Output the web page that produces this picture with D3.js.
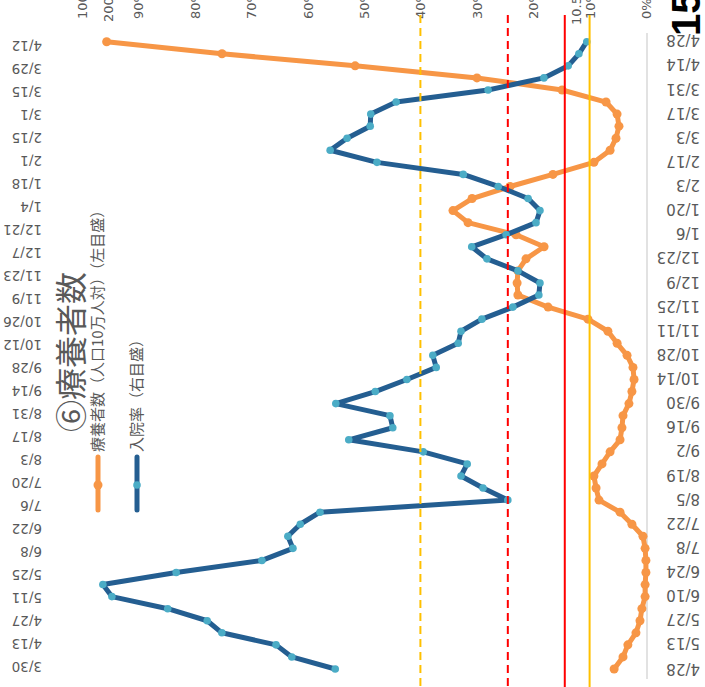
<!DOCTYPE html>
<html>
<head>
<meta charset="utf-8">
<script src="https://cdn.jsdelivr.net/npm/d3@7"></script>
<style>
  html, body { margin: 0; padding: 0; background: #fff; overflow: hidden; }
  svg { display: block; }
</style>
</head>
<body>
<svg id="chart" width="705" height="687"></svg>
<script>
// Weekly observation dates
const weeks = [
  "2020-04-28","2020-05-05","2020-05-12","2020-05-19","2020-05-26",
  "2020-06-02","2020-06-09","2020-06-16","2020-06-23","2020-06-30",
  "2020-07-07","2020-07-14","2020-07-21","2020-07-28",
  "2020-08-04","2020-08-11","2020-08-18","2020-08-25",
  "2020-09-01","2020-09-08","2020-09-15","2020-09-22","2020-09-29",
  "2020-10-06","2020-10-13","2020-10-20","2020-10-27",
  "2020-11-03","2020-11-10","2020-11-17","2020-11-24",
  "2020-12-01","2020-12-08","2020-12-15","2020-12-22","2020-12-29",
  "2021-01-05","2021-01-12","2021-01-19","2021-01-26",
  "2021-02-02","2021-02-09","2021-02-16","2021-02-23",
  "2021-03-02","2021-03-09","2021-03-16","2021-03-23","2021-03-30",
  "2021-04-06","2021-04-13","2021-04-20","2021-04-27"
];

// 療養者数（人口10万人対）
const patients = [
  12.2, 8.9, 7.1, 4.1, 2.6, 1.9, 0.7, 0.7, 0.4, 0.4,
  0.7, 1.5, 5.6, 10.0, 17.8, 18.9, 19.7, 16.7, 13.7, 10.0,
  9.3, 8.9, 6.7, 5.6, 4.8, 5.2, 7.4, 11.1, 14.5, 21.9,
  36.7, 47.9, 48.2, 47.9, 44.9, 38.2, 48.6, 66.4, 72.0, 64.9,
  50.8, 34.9, 19.7, 13.7, 11.5, 10.4, 11.1, 15.2, 31.5, 63.1,
  108.3, 157.7, 200.5
];

// 入院率（%）
const hospitalRate = [
  55.1, 62.8, 65.6, 75.2, 77.8, 84.8, 94.7, 96.3, 83.3, 68.1,
  62.6, 63.5, 61.3, 57.8, 24.5, 28.9, 32.8, 31.7, 39.5, 52.7,
  44.9, 45.4, 55.0, 48.0, 42.4, 37.2, 37.8, 33.3, 32.8, 29.1,
  23.6, 19.0, 18.8, 22.7, 28.2, 30.9, 24.8, 19.5, 18.8, 20.9,
  26.2, 32.4, 47.7, 56.0, 53.0, 48.9, 48.8, 44.3, 28.0, 18.1,
  13.8, 11.9, 10.5
];

// Axis ticks
const pctTicks = [0, 10, 20, 30, 40, 50, 60, 70, 80, 90, 100];
const patientTicks = [200];
const rightDateTicks = [
  "2020-04-28","2020-05-13","2020-05-27","2020-06-10","2020-06-24",
  "2020-07-08","2020-07-22","2020-08-05","2020-08-19","2020-09-02",
  "2020-09-16","2020-09-30","2020-10-14","2020-10-28","2020-11-11",
  "2020-11-25","2020-12-09","2020-12-23","2021-01-06","2021-01-20",
  "2021-02-03","2021-02-17","2021-03-03","2021-03-17","2021-03-31",
  "2021-04-14","2021-04-28"
];
const leftDateTicks = [
  "2020-03-30","2020-04-13","2020-04-27","2020-05-11","2020-05-25",
  "2020-06-08","2020-06-22","2020-07-06","2020-07-20","2020-08-03",
  "2020-08-17","2020-08-31","2020-09-14","2020-09-28","2020-10-12",
  "2020-10-26","2020-11-09","2020-11-23","2020-12-07","2020-12-21",
  "2021-01-04","2021-01-18","2021-02-01","2021-02-15","2021-03-01",
  "2021-03-15","2021-03-29","2021-04-12"
];

// Reference levels on the 入院率 scale
const thresholds = [40, 24.5, 14.4, 10];
const thresholdNote = "10.5";
const stageNumber = "15";

const title = "⑥療養者数";
const seriesNames = ["療養者数（人口10万人対）（左目盛）", "入院率（右目盛）"];

// ---------------------------------------------------------------
const svg = d3.select("#chart");
const parse = d3.utcParse("%Y-%m-%d");
const fmt = d3.utcFormat("%-m/%-d");
const dates = weeks.map(parse);

const grey = "#595959";
const orange = "#F79646";
const blue = "#245E91";
const blueMarker = "#4BACC6";
const numFont = "'DejaVu Sans', sans-serif";
const jpFont = "'Noto Sans CJK JP', sans-serif";

// value scales run horizontally, time runs upward
const xRate = d3.scaleLinear().domain([0, 100]).range([646, 82]);
const xPat = d3.scaleLinear().domain([0, 200]).range([647, 108]);
const yTime = d3.scaleUtc().domain([parse("2020-04-28"), parse("2021-04-28")]).range([669, 40]);
const yTime2 = d3.scaleUtc().domain([parse("2020-03-30"), parse("2021-04-12")]).range([666, 45]);

// category axis line
svg.append("line")
  .attr("x1", xRate(0) + 1).attr("x2", xRate(0) + 1)
  .attr("y1", 33).attr("y2", 679)
  .attr("stroke", "#D9D9D9").attr("stroke-width", 1.5);

// percentage axis (top)
const topAxis = svg.append("g")
  .call(d3.axisTop(xRate).tickValues(pctTicks).tickFormat(d => d + "%").tickSize(0));
topAxis.select(".domain").remove();
topAxis.attr("font-family", numFont).attr("font-size", 13);
topAxis.selectAll("text")
  .attr("fill", grey).attr("x", 0).attr("y", 0).attr("dy", "0.35em")
  .attr("text-anchor", "start")
  .attr("transform", "translate(0,19) rotate(-90)");

// patient-count axis label
const patAxis = svg.append("g")
  .call(d3.axisTop(xPat).tickValues(patientTicks).tickSize(0));
patAxis.select(".domain").remove();
patAxis.attr("font-family", numFont).attr("font-size", 13);
patAxis.selectAll("text")
  .attr("fill", grey).attr("x", 0).attr("y", 0).attr("dy", "0.35em")
  .attr("text-anchor", "start")
  .attr("transform", "translate(0,22) rotate(-90)");

// date axes
function dateAxis(scale, ticks, xAnchor, size) {
  const g = svg.append("g")
    .call(d3.axisRight(scale).tickValues(ticks.map(parse)).tickFormat(fmt).tickSize(0));
  g.select(".domain").remove();
  g.attr("font-family", numFont).attr("font-size", size);
  g.selectAll("text")
    .attr("fill", grey).attr("x", 0).attr("y", 0).attr("dy", "0.35em")
    .attr("text-anchor", "start")
    .attr("transform", `translate(${xAnchor},0) rotate(180)`);
}
dateAxis(yTime, rightDateTicks, 700, 15);
dateAxis(yTime2, leftDateTicks, 42, 13.5);

// series
const patLine = d3.line().x((d, i) => xPat(patients[i])).y(d => yTime(d));
const rateLine = d3.line().x((d, i) => xRate(hospitalRate[i])).y(d => yTime(d));

svg.append("path").datum(dates)
  .attr("d", patLine).attr("fill", "none")
  .attr("stroke", orange).attr("stroke-width", 5).attr("stroke-linejoin", "round");
svg.append("g").selectAll("circle").data(dates).join("circle")
  .attr("cx", (d, i) => xPat(patients[i])).attr("cy", d => yTime(d))
  .attr("r", 4.5).attr("fill", orange);

svg.append("path").datum(dates)
  .attr("d", rateLine).attr("fill", "none")
  .attr("stroke", blue).attr("stroke-width", 5).attr("stroke-linejoin", "round");
svg.append("g").selectAll("circle").data(dates).join("circle")
  .attr("cx", (d, i) => xRate(hospitalRate[i])).attr("cy", d => yTime(d))
  .attr("r", 3.8).attr("fill", blueMarker);

// reference lines
const refStyles = [
  { stroke: "#FFC000", dash: "8 5" },
  { stroke: "#FF0000", dash: "8 5" },
  { stroke: "#FF0000", dash: null },
  { stroke: "#FFC000", dash: null }
];
svg.append("g").selectAll("line").data(thresholds).join("line")
  .attr("x1", d => xRate(d)).attr("x2", d => xRate(d))
  .attr("y1", 15).attr("y2", 687)
  .attr("stroke", (d, i) => refStyles[i].stroke)
  .attr("stroke-width", 2)
  .attr("stroke-dasharray", (d, i) => refStyles[i].dash);

// note beside the solid red line
svg.append("text")
  .attr("transform", `translate(${xRate(thresholds[2]) + 12},25) rotate(-90)`)
  .attr("dy", "0.35em")
  .attr("font-family", numFont).attr("font-size", 13).attr("fill", grey)
  .text(thresholdNote);

// stage number
svg.append("text")
  .attr("transform", "translate(686,36) rotate(-90)")
  .attr("dy", "0.35em")
  .attr("font-family", "'Liberation Sans', Arial, sans-serif")
  .attr("font-size", 40).attr("font-weight", "bold").attr("fill", "#000")
  .text(stageNumber);

// title
svg.append("text")
  .attr("transform", "translate(71,432) rotate(-90)")
  .attr("dy", "0.36em")
  .attr("font-family", jpFont).attr("font-size", 32).attr("fill", grey)
  .text(title);

// legend
const legendItems = [
  { name: seriesNames[0], line: orange, marker: orange, r: 4.5, x: 98 },
  { name: seriesNames[1], line: blue, marker: blueMarker, r: 3.8, x: 137 }
];
const lg = svg.append("g");
legendItems.forEach(it => {
  lg.append("line")
    .attr("x1", it.x).attr("x2", it.x).attr("y1", 510).attr("y2", 457)
    .attr("stroke", it.line).attr("stroke-width", 5).attr("stroke-linecap", "round");
  lg.append("circle").attr("cx", it.x).attr("cy", 485).attr("r", it.r).attr("fill", it.marker);
  lg.append("text")
    .attr("transform", `translate(${it.x},452) rotate(-90)`)
    .attr("dy", "0.36em")
    .attr("font-family", jpFont).attr("font-size", 15).attr("fill", grey)
    .text(it.name);
});
</script>
</body>
</html>
